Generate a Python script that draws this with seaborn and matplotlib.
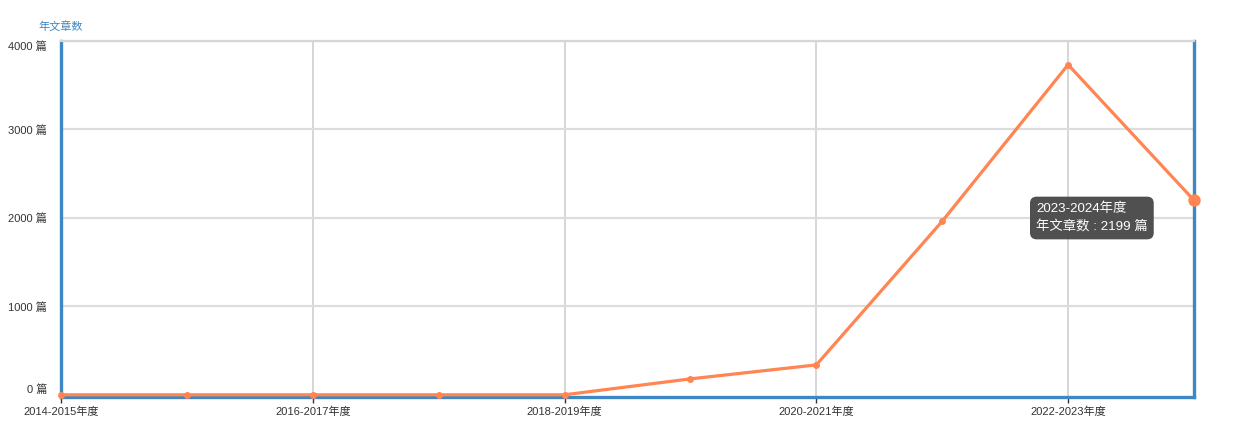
import matplotlib
matplotlib.use("Agg")
import matplotlib.pyplot as plt
import pandas as pd
import seaborn as sns

# Data
years = ['2014-2015年度', '2015-2016年度', '2016-2017年度', '2017-2018年度', '2018-2019年度',
         '2019-2020年度', '2020-2021年度', '2021-2022年度', '2022-2023年度', '2023-2024年度']
counts = [0, 0, 0, 0, 0, 180, 338, 1962, 3732, 2199]
yticks = [0, 1000, 2000, 3000, 4000]

df = pd.DataFrame({'year': years, 'count': counts})

sns.set_style('white')
plt.rcParams['font.family'] = ['Liberation Sans', 'Noto Sans CJK SC', 'DejaVu Sans']

line_color = '#ff8552'
axis_blue = '#3d87c4'

fig = plt.figure(figsize=(12.43, 4.42), dpi=100)
ax = fig.add_axes([61 / 1243, 1 - 397 / 442, (1194 - 61) / 1243, (397 - 41) / 442])

sns.lineplot(data=df, x='year', y='count', ax=ax, color=line_color, linewidth=2.3,
             marker='o', markersize=5, markeredgewidth=0, sort=False, zorder=5, clip_on=False)
# hovered last point
sns.scatterplot(x=[years[-1]], y=[counts[-1]], ax=ax, color=line_color, s=80,
                linewidth=0, zorder=6, clip_on=False)

ax.set_xlim(0, len(years) - 1)
ax.set_ylim(-25, 4000)
ax.set_xticks(range(0, len(years), 2))
ax.set_xticklabels(years[::2], fontsize=8, color='#333333')
ax.set_yticks(yticks)
ax.set_yticklabels([f'{v} 篇' for v in yticks], fontsize=8, color='#333333')
ylabels = ax.get_yticklabels()
ylabels[0].set_va('bottom')
ylabels[-1].set_va('top')
ax.set_xlabel('')
ax.set_ylabel('')

ax.grid(True, axis='y', color='#dddddd', linewidth=1.6)
ax.grid(True, axis='x', color='#d0d0d0', linewidth=1.2)
ax.yaxis.get_gridlines()[0].set_visible(False)
ax.set_axisbelow(True)

for side in ['left', 'right', 'bottom']:
    ax.spines[side].set_color(axis_blue)
    ax.spines[side].set_linewidth(2.4)
ax.spines['top'].set_color('#d6d6d6')
ax.spines['top'].set_linewidth(1.6)

ax.tick_params(axis='x', length=4, width=1, color='#333333', pad=3, bottom=True)
ax.tick_params(axis='y', length=0, pad=10)

fig.text(38 / 1243, 1 - 27 / 442, '年文章数', color=axis_blue, fontsize=8, va='center', ha='left')

# tooltip
fig.text(1036 / 1243, 1 - 218 / 442, '2023-2024年度\n年文章数 : 2199 篇', color='white',
         fontsize=9.6, va='center', ha='left', linespacing=1.5,
         bbox=dict(boxstyle='round,pad=0.45,rounding_size=0.5', facecolor='#4a4a4a',
                   edgecolor='none', alpha=0.97))

fig.savefig('out.png', dpi=100)
